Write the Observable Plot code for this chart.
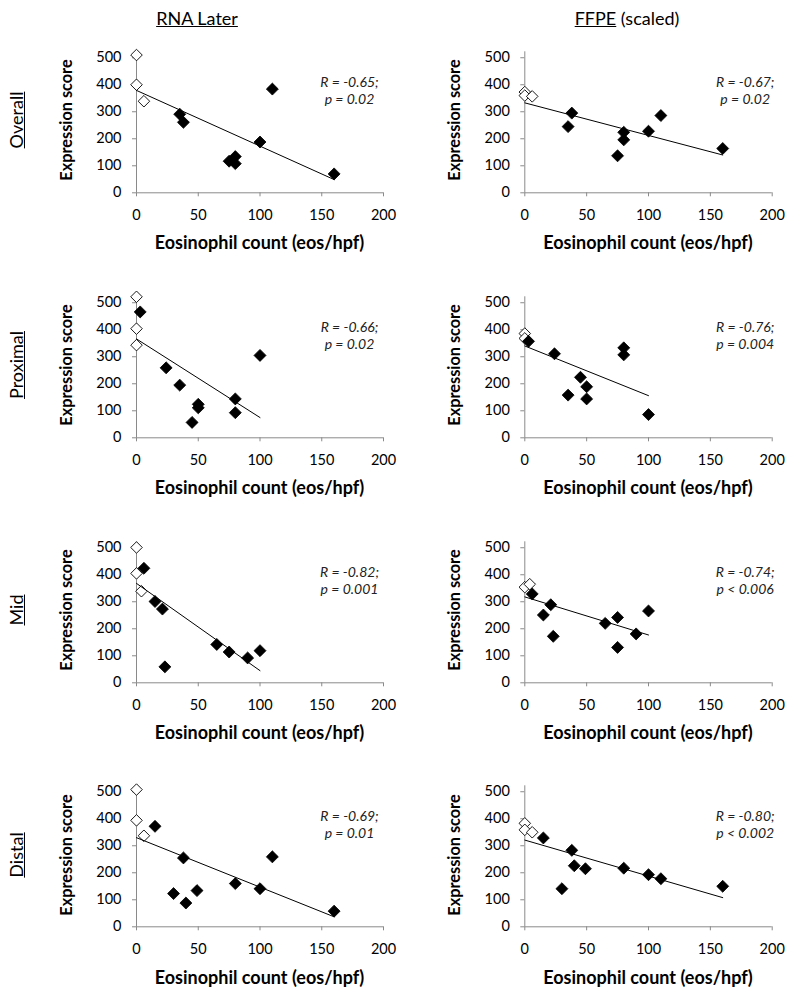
<!DOCTYPE html>
<html>
<head>
<meta charset="utf-8">
<script src="https://cdn.jsdelivr.net/npm/d3@7"></script>
<script src="https://cdn.jsdelivr.net/npm/@observablehq/plot@0.6"></script>
<style>
  html, body { margin: 0; padding: 0; background: #fff; }
  #chart { position: relative; width: 794px; height: 995px; background: #fff; font-family: Lato, "Open Sans", sans-serif; color: #000; overflow: hidden; }
  .abs { position: absolute; white-space: nowrap; transform: translate(-50%, -50%); }
  .rot { transform: translate(-50%, -50%) rotate(-90deg); }
  .coltitle { font-size: 18px; }
  .rowlabel { font-size: 18px; text-decoration: underline; }
  .ylab { font-size: 16.3px; font-weight: bold; }
  .xlab { font-size: 18px; font-weight: bold; }
  .panel { position: absolute; }
</style>
</head>
<body>
<div id="chart"></div>
<script>
// ---------- data ----------
const columnTitles = ["RNA Later", "FFPE"];
const columnTitleSuffix = ["", " (scaled)"];
const rowLabels = ["Overall", "Proximal", "Mid", "Distal"];
const xLabel = "Eosinophil count (eos/hpf)";
const yLabel = "Expression score";
const xTicks = [0, 50, 100, 150, 200];
const yTicks = [0, 100, 200, 300, 400, 500];

// Overall
const overallRnaOpen   = [[0, 510], [0, 400], [6, 339]];
const overallRnaFilled = [[35, 291], [38, 261], [75, 117], [80, 134], [80, 108], [100, 188], [110, 384], [160, 70]];
const overallRnaTrend  = [[0, 379], [160, 49]];
const overallRnaStats  = "R = -0.65;\np = 0.02";

const overallFfpeOpen   = [[0, 373], [0, 360], [6, 357]];
const overallFfpeFilled = [[35, 245], [38, 295], [75, 137], [80, 224], [80, 196], [100, 228], [110, 286], [160, 164]];
const overallFfpeTrend  = [[0, 333], [160, 140]];
const overallFfpeStats  = "R = -0.67;\np = 0.02";

// Proximal
const proximalRnaOpen   = [[0, 522], [0, 404], [0, 343]];
const proximalRnaFilled = [[3, 466], [24, 259], [35, 195], [45, 57], [50, 124], [50, 111], [80, 144], [80, 93], [100, 305]];
const proximalRnaTrend  = [[0, 366], [100, 75]];
const proximalRnaStats  = "R = -0.66;\np = 0.02";

const proximalFfpeOpen   = [[0, 386], [0, 368]];
const proximalFfpeFilled = [[3, 357], [24, 311], [35, 158], [45, 224], [50, 189], [50, 144], [80, 333], [80, 307], [100, 86]];
const proximalFfpeTrend  = [[0, 340], [100, 156]];
const proximalFfpeStats  = "R = -0.76;\np = 0.004";

// Mid
const midRnaOpen   = [[0, 501], [0, 405], [4, 339]];
const midRnaFilled = [[6, 424], [15, 301], [21, 273], [23, 59], [65, 142], [75, 114], [90, 92], [100, 119]];
const midRnaTrend  = [[0, 368], [100, 45]];
const midRnaStats  = "R = -0.82;\np = 0.001";

const midFfpeOpen   = [[0, 354], [4, 365]];
const midFfpeFilled = [[6, 329], [15, 251], [21, 289], [23, 172], [65, 220], [75, 242], [75, 131], [90, 181], [100, 266]];
const midFfpeTrend  = [[0, 318], [100, 177]];
const midFfpeStats  = "R = -0.74;\np < 0.006";

// Distal
const distalRnaOpen   = [[0, 508], [0, 394], [6, 337]];
const distalRnaFilled = [[15, 372], [30, 123], [38, 255], [40, 88], [49, 134], [80, 160], [100, 141], [110, 259], [160, 58]];
const distalRnaTrend  = [[0, 330], [160, 37]];
const distalRnaStats  = "R = -0.69;\np = 0.01";

const distalFfpeOpen   = [[0, 383], [0, 359], [6, 350]];
const distalFfpeFilled = [[15, 329], [30, 141], [38, 283], [40, 226], [49, 215], [80, 217], [100, 193], [110, 178], [160, 150]];
const distalFfpeTrend  = [[0, 321], [160, 108]];
const distalFfpeStats  = "R = -0.80;\np < 0.002";

const panels = [
  [overallRnaOpen, overallRnaFilled, overallRnaTrend, overallRnaStats],
  [overallFfpeOpen, overallFfpeFilled, overallFfpeTrend, overallFfpeStats],
  [proximalRnaOpen, proximalRnaFilled, proximalRnaTrend, proximalRnaStats],
  [proximalFfpeOpen, proximalFfpeFilled, proximalFfpeTrend, proximalFfpeStats],
  [midRnaOpen, midRnaFilled, midRnaTrend, midRnaStats],
  [midFfpeOpen, midFfpeFilled, midFfpeTrend, midFfpeStats],
  [distalRnaOpen, distalRnaFilled, distalRnaTrend, distalRnaStats],
  [distalFfpeOpen, distalFfpeFilled, distalFfpeTrend, distalFfpeStats]
];

// ---------- layout ----------
const PANEL_W = 397, PANEL_H = 245, ROW_STEP = 244.8;
const MT = 51.3, MB = PANEL_H - 192.3;
const colLayout = [
  {left: 0,   ml: 136,   mr: 14,   statDx: -34},
  {left: 397, ml: 127.3, mr: 22.3, statDx: -27}
];
const axisGray = "#8a8a8a";

const chart = document.getElementById("chart");
function addDiv(cls, html, x, y) {
  const d = document.createElement("div");
  d.className = "abs " + cls;
  d.innerHTML = html;
  d.style.left = x + "px";
  d.style.top = y + "px";
  chart.appendChild(d);
  return d;
}

// column titles
addDiv("coltitle", `<span style="text-decoration:underline">${columnTitles[0]}</span>${columnTitleSuffix[0]}`, 197, 18);
addDiv("coltitle", `<span style="text-decoration:underline">${columnTitles[1]}</span>${columnTitleSuffix[1]}`, 627, 18);

panels.forEach((p, i) => {
  const [open, filled, trend, stats] = p;
  const row = Math.floor(i / 2), col = i % 2;
  const L = colLayout[col];
  const top = row * ROW_STEP;
  const svg = Plot.plot({
    width: PANEL_W,
    height: PANEL_H,
    marginLeft: L.ml,
    marginRight: L.mr,
    marginTop: MT,
    marginBottom: MB,
    x: {domain: [0, 200]},
    y: {domain: [0, 522]},
    style: {fontFamily: "Lato, 'Open Sans', sans-serif", fontSize: "14px", color: "#000", background: "transparent", overflow: "visible"},
    marks: [
      Plot.axisX({ticks: xTicks, tickSize: 4, tickPadding: 13, label: null, stroke: axisGray, fill: "#000", fontSize: 14.5}),
      Plot.axisY({ticks: yTicks, tickSize: 4, tickPadding: 11, label: null, stroke: axisGray, fill: "#000", fontSize: 14.5}),
      Plot.ruleX([0], {stroke: axisGray, strokeWidth: 1}),
      Plot.ruleY([0], {stroke: axisGray, strokeWidth: 1}),
      Plot.dot(open, {x: d => d[0], y: d => d[1], symbol: "diamond2", r: 5.2, fill: "#fff", stroke: "#000", strokeWidth: 0.9}),
      Plot.dot(filled, {x: d => d[0], y: d => d[1], symbol: "diamond2", r: 5.4, fill: "#000", stroke: "#000", strokeWidth: 0.8}),
      Plot.line(trend, {x: d => d[0], y: d => d[1], stroke: "#000", strokeWidth: 1}),
      Plot.text([stats], {text: d => d, frameAnchor: "top-right", textAnchor: "middle", lineAnchor: "top", dx: L.statDx, dy: 23, lineHeight: 1.24, fontSize: 14, fontStyle: "italic", fill: "#222"})
    ]
  });
  const wrap = document.createElement("div");
  wrap.className = "panel";
  wrap.style.left = L.left + "px";
  wrap.style.top = top + "px";
  wrap.appendChild(svg);
  chart.appendChild(wrap);

  const axisX = L.left + L.ml;
  const y0 = top + 192.3;
  const plotCx = axisX + (PANEL_W - L.ml - L.mr) / 2;
  addDiv("ylab rot", yLabel, axisX - 71.5, y0 - 72);
  addDiv("xlab", xLabel, plotCx, y0 + 50);
  if (col === 0) addDiv("rowlabel rot", rowLabels[row], 16, y0 - 72);
});
</script>
</body>
</html>
